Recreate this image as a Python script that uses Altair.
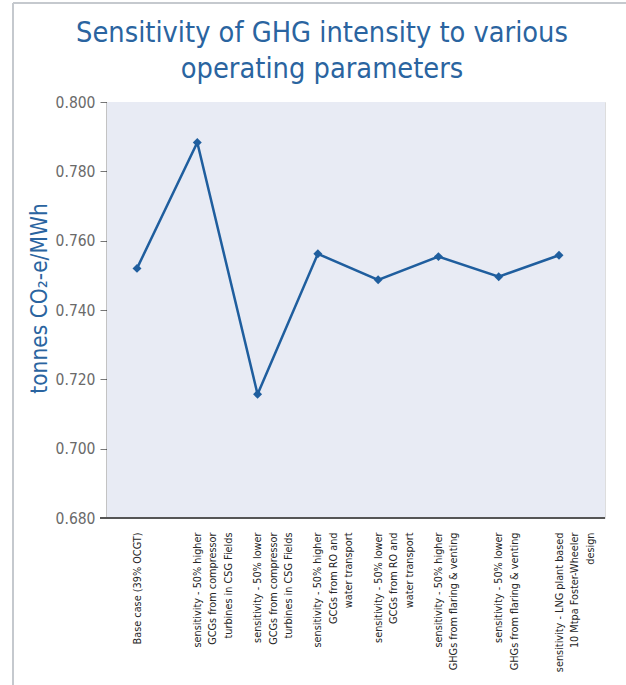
import altair as alt
import pandas as pd

# Scenario names ("|" marks a line break in the axis label)
scenarios = [
    "Base case (39% OCGT)",
    "sensitivity - 50% higher|GCGs from compressor|turbines in CSG Fields",
    "sensitivity - 50% lower|GCGs from compressor|turbines in CSG Fields",
    "sensitivity - 50% higher|GCGs from RO and|water transport",
    "sensitivity - 50% lower|GCGs from RO and|water transport",
    "sensitivity - 50% higher|GHGs from flaring & venting",
    "sensitivity - 50% lower|GHGs from flaring & venting",
    "sensitivity - LNG plant based|10 Mtpa Foster-Wheeler|design",
]
# GHG intensity, tonnes CO2-e per MWh
intensity = [0.752, 0.7883, 0.7157, 0.7562, 0.7487, 0.7554, 0.7496, 0.7558]
y_ticks = [0.68, 0.70, 0.72, 0.74, 0.76, 0.78, 0.80]

df = pd.DataFrame({"scenario": scenarios, "intensity": intensity})

BLUE = "#1f5e9e"
TITLE_BLUE = "#2a64a0"
FONT = "DejaVu Sans Condensed"
W, H = 498, 416

x_enc = alt.X(
    "scenario:N",
    sort=None,
    scale=alt.Scale(type="point", range=[30, 452], padding=0),
    axis=alt.Axis(
        title=None,
        domain=False,
        ticks=False,
        grid=False,
        labelAngle=270,
        labelAlign="right",
        labelBaseline="middle",
        labelPadding=14,
        labelFont=FONT,
        labelFontSize=10.8,
        labelLineHeight=15.5,
        labelColor="#262626",
        labelExpr="split(datum.label, '|')",
        labelLimit=400,
    ),
)
y_enc = alt.Y(
    "intensity:Q",
    scale=alt.Scale(domain=[0.68, 0.80], nice=False, zero=False),
    axis=alt.Axis(
        values=y_ticks,
        format=".3f",
        title="tonnes CO₂-e/MWh",
        titleFont=FONT,
        titleFontSize=22.5,
        titleFontWeight="normal",
        titleColor=TITLE_BLUE,
        titlePadding=4,
        titleY=196,
        labelFont=FONT,
        labelFontSize=15.5,
        labelColor="#6a6a6a",
        labelPadding=5,
        tickSize=7,
        tickColor="#777777",
        domainColor="#111111",
        domainWidth=1.5,
        gridColor="#a3a3a3",
        gridWidth=1.2,
    ),
)

# Plot-area fill
panel = alt.Chart(df).mark_rect(color="#e8ebf4").encode(
    x=alt.value(0), x2=alt.value(W), y=alt.value(0), y2=alt.value(H)
)

series = alt.Chart(df).mark_line(
    color=BLUE,
    strokeWidth=2.5,
    point=alt.OverlayMarkDef(shape="diamond", size=80, filled=True, color=BLUE),
).encode(x=x_enc, y=y_enc)

# Dark baseline along the bottom of the plot area
baseline = alt.Chart(df).mark_rule(color="#555555", strokeWidth=2).encode(
    x=alt.value(-7), x2=alt.value(W), y=alt.value(H)
)

# Light frame around the figure
frame_top = alt.Chart(df).mark_rule(color="#c5c9ce", strokeWidth=2).encode(
    x=alt.value(-94), x2=alt.value(W + 30), y=alt.value(-99)
)
frame_left = alt.Chart(df).mark_rule(color="#c5c9ce", strokeWidth=2).encode(
    x=alt.value(-94), y=alt.value(-99), y2=alt.value(H + 170)
)

chart = (
    alt.layer(panel, frame_top, frame_left, series, baseline)
    .properties(
        width=W,
        height=H,
        autosize=alt.AutoSizeParams(type="none"),
        padding={"left": 107, "top": 102, "right": 21, "bottom": 167},
        title=alt.TitleParams(
            text=["Sensitivity of GHG intensity to various", "operating parameters"],
            font=FONT,
            fontSize=28.7,
            fontWeight="normal",
            color=TITLE_BLUE,
            anchor="middle",
            frame="group",
            dx=-34,
            dy=82,
            offset=0,
            lineHeight=36,
        ),
    )
    .configure_view(stroke=None)
    .configure(background="white")
)

chart.save("out.html", embed_options={"renderer": "svg", "actions": False})
